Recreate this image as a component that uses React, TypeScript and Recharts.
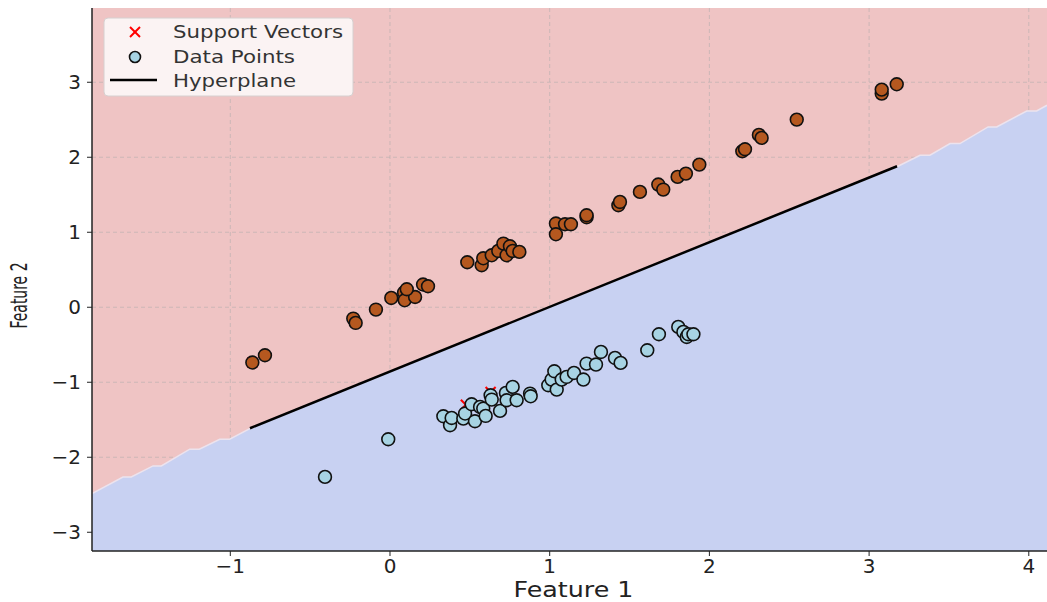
import {
  ComposedChart,
  XAxis,
  YAxis,
  CartesianGrid,
  Scatter,
  Line,
  Area,
  Label,
} from "recharts";

// class 1 (orange) points
const classA = [
  { x: -0.862, y: -0.737 }, { x: -0.783, y: -0.64 }, { x: -0.23, y: -0.151 },
  { x: -0.215, y: -0.209 }, { x: -0.088, y: -0.031 }, { x: 0.008, y: 0.124 },
  { x: 0.088, y: 0.196 }, { x: 0.092, y: 0.093 }, { x: 0.157, y: 0.137 },
  { x: 0.105, y: 0.24 }, { x: 0.207, y: 0.303 }, { x: 0.238, y: 0.28 },
  { x: 0.484, y: 0.6 }, { x: 0.574, y: 0.56 }, { x: 0.584, y: 0.653 },
  { x: 0.637, y: 0.693 }, { x: 0.678, y: 0.751 }, { x: 0.71, y: 0.849 },
  { x: 0.73, y: 0.693 }, { x: 0.751, y: 0.813 }, { x: 0.768, y: 0.751 },
  { x: 0.81, y: 0.738 }, { x: 1.039, y: 1.116 }, { x: 1.039, y: 0.973 },
  { x: 1.096, y: 1.107 }, { x: 1.133, y: 1.107 }, { x: 1.231, y: 1.2 },
  { x: 1.231, y: 1.227 }, { x: 1.43, y: 1.36 }, { x: 1.44, y: 1.404 },
  { x: 1.565, y: 1.538 }, { x: 1.68, y: 1.636 }, { x: 1.711, y: 1.569 },
  { x: 1.801, y: 1.738 }, { x: 1.853, y: 1.782 }, { x: 1.937, y: 1.902 },
  { x: 2.206, y: 2.08 }, { x: 2.223, y: 2.107 }, { x: 2.31, y: 2.298 },
  { x: 2.327, y: 2.258 }, { x: 2.547, y: 2.502 }, { x: 3.079, y: 2.849 },
  { x: 3.079, y: 2.902 }, { x: 3.173, y: 2.973 },
];

// class 0 (light blue) points
const classB = [
  { x: -0.407, y: -2.262 }, { x: -0.011, y: -1.76 }, { x: 0.334, y: -1.453 },
  { x: 0.376, y: -1.573 }, { x: 0.386, y: -1.476 }, { x: 0.459, y: -1.484 },
  { x: 0.47, y: -1.417 }, { x: 0.511, y: -1.293 }, { x: 0.532, y: -1.52 },
  { x: 0.564, y: -1.329 }, { x: 0.584, y: -1.351 }, { x: 0.599, y: -1.449 },
  { x: 0.63, y: -1.173 }, { x: 0.637, y: -1.231 }, { x: 0.689, y: -1.382 },
  { x: 0.726, y: -1.142 }, { x: 0.73, y: -1.24 }, { x: 0.768, y: -1.062 },
  { x: 0.793, y: -1.24 }, { x: 0.877, y: -1.151 }, { x: 0.881, y: -1.187 },
  { x: 0.991, y: -1.04 }, { x: 1.012, y: -0.964 }, { x: 1.029, y: -0.853 },
  { x: 1.044, y: -1.098 }, { x: 1.075, y: -0.964 }, { x: 1.106, y: -0.929 },
  { x: 1.152, y: -0.876 }, { x: 1.211, y: -0.964 }, { x: 1.231, y: -0.751 },
  { x: 1.29, y: -0.764 }, { x: 1.321, y: -0.596 }, { x: 1.409, y: -0.676 },
  { x: 1.444, y: -0.742 }, { x: 1.611, y: -0.573 }, { x: 1.684, y: -0.36 },
  { x: 1.805, y: -0.262 }, { x: 1.837, y: -0.329 }, { x: 1.858, y: -0.396 },
  { x: 1.868, y: -0.36 }, { x: 1.9, y: -0.36 },
];

const supportVectors = [
  { x: -0.862, y: -0.737 }, { x: 0.157, y: 0.137 },
  { x: 0.475, y: -1.3 }, { x: 0.63, y: -1.13 },
];

const hyperplane = [
  { x: -0.877, y: -1.613 },
  { x: 3.175, y: 1.88 },
];

// decision region boundary
const boundary = [
  { x: -1.866, y: -2.484 }, { x: -1.672, y: -2.263 }, { x: -1.62, y: -2.263 },
  { x: -1.484, y: -2.116 }, { x: -1.432, y: -2.116 }, { x: -1.254, y: -1.893 },
  { x: -1.194, y: -1.893 }, { x: -1.066, y: -1.76 }, { x: -1.004, y: -1.76 },
  { x: -0.869, y: -1.609 }, { x: 3.181, y: 1.88 }, { x: 3.319, y: 2.027 },
  { x: 3.381, y: 2.027 }, { x: 3.507, y: 2.183 }, { x: 3.569, y: 2.183 },
  { x: 3.745, y: 2.404 }, { x: 3.799, y: 2.404 }, { x: 3.987, y: 2.617 },
  { x: 4.049, y: 2.617 }, { x: 4.114, y: 2.693 },
];

const xTicks = [-1, 0, 1, 2, 3, 4];
const yTicks = [-3, -2, -1, 0, 1, 2, 3];
const xDomain = [-1.866, 4.114];
const yDomain = [-3.25, 3.99];

const FONT = "'DejaVu Sans', sans-serif";

const Dot = (fill: string) => (props: any) => (
  <circle cx={props.cx} cy={props.cy} r={6.4} fill={fill} stroke="#111" strokeWidth={1.6} />
);

const Cross = (props: any) => {
  const { cx, cy } = props;
  const s = 5;
  return (
    <g stroke="#ff0000" strokeWidth={2}>
      <line x1={cx - s} y1={cy - s} x2={cx + s} y2={cy + s} />
      <line x1={cx - s} y1={cy + s} x2={cx + s} y2={cy - s} />
    </g>
  );
};

const fmt = (v: number) => (v < 0 ? `\u2212${Math.abs(v)}` : `${v}`);

const App = () => (
  <div style={{ position: "absolute", left: 0, top: 0, width: 1047, height: 602 }}>
    <ComposedChart
      width={1047}
      height={602}
      margin={{ top: 8, right: 0, left: 0, bottom: 0 }}
    >
      <CartesianGrid fill="#efc4c4" horizontal={false} vertical={false} stroke="none" />
      <XAxis
        dataKey="x"
        type="number"
        domain={xDomain}
        ticks={xTicks}
        allowDataOverflow
        height={51}
        tickFormatter={fmt}
        tick={{ fontSize: 20, fill: "#222", fontFamily: FONT }}
        tickSize={5}
        tickMargin={3}
        axisLine={{ stroke: "#222", strokeWidth: 1.5 }}
        tickLine={{ stroke: "#222" }}
      >
        <Label
          content={({ viewBox }: any) => (
            <text
              x={viewBox.x + viewBox.width / 2 + 4}
              y={viewBox.y + viewBox.height - 5}
              textAnchor="middle"
              fontSize={21}
              fontFamily={FONT}
              fill="#222"
              textLength={120}
              lengthAdjust="spacingAndGlyphs"
            >
              Feature 1
            </text>
          )}
        />
      </XAxis>
      <YAxis
        dataKey="y"
        type="number"
        domain={yDomain}
        ticks={yTicks}
        allowDataOverflow
        width={92}
        tickFormatter={fmt}
        tick={{ fontSize: 20, fill: "#222", fontFamily: FONT }}
        tickSize={5}
        tickMargin={6}
        axisLine={{ stroke: "#222", strokeWidth: 1.5 }}
        tickLine={{ stroke: "#222" }}
      >
        <Label
          content={({ viewBox }: any) => {
            const cx = 27;
            const cy = viewBox.y + viewBox.height / 2 + 16;
            return (
              <text
                x={cx}
                y={cy}
                transform={`rotate(-90 ${cx} ${cy})`}
                textAnchor="middle"
                fontSize={23}
                fontFamily={FONT}
                fill="#222"
                textLength={66}
                lengthAdjust="spacingAndGlyphs"
              >
                Feature 2
              </text>
            );
          }}
        />
      </YAxis>
      <Area
        data={boundary}
        dataKey="y"
        type="linear"
        baseValue={yDomain[0]}
        fill="#c8d1f2"
        fillOpacity={1}
        stroke="#ece3ee"
        strokeWidth={1.5}
        isAnimationActive={false}
      />
      <CartesianGrid
        stroke="#a9a9a9"
        strokeOpacity={0.5}
        strokeDasharray="4 3"
        fill="none"
        horizontalValues={yTicks}
        verticalValues={xTicks}
      />
      <Line
        data={hyperplane}
        dataKey="y"
        stroke="#000"
        strokeWidth={2.5}
        dot={false}
        activeDot={false}
        isAnimationActive={false}
      />
      <Scatter data={supportVectors} dataKey="y" shape={Cross} isAnimationActive={false} />
      <Scatter data={classA} dataKey="y" shape={Dot("#b5581f")} isAnimationActive={false} />
      <Scatter data={classB} dataKey="y" shape={Dot("#a7d3e3")} isAnimationActive={false} />
    </ComposedChart>

    <svg
      width={270}
      height={100}
      style={{ position: "absolute", left: 0, top: 0, overflow: "visible" }}
    >
      <rect x={104} y={18} width={249} height={78} rx={4} fill="#fbf3f3" stroke="#d6d0d0" />
      <g stroke="#ff0000" strokeWidth={2}>
        <line x1={130} y1={27} x2={140} y2={37} />
        <line x1={130} y1={37} x2={140} y2={27} />
      </g>
      <circle cx={135} cy={57} r={5.5} fill="#a7d3e3" stroke="#111" strokeWidth={1.6} />
      <line x1={110} y1={80} x2={157} y2={80} stroke="#000" strokeWidth={2.5} />
      <g fontFamily={FONT} fontSize={18} fill="#333">
        <text x={173} y={38} textLength={170} lengthAdjust="spacingAndGlyphs">Support Vectors</text>
        <text x={173} y={63} textLength={122} lengthAdjust="spacingAndGlyphs">Data Points</text>
        <text x={173} y={87} textLength={123} lengthAdjust="spacingAndGlyphs">Hyperplane</text>
      </g>
    </svg>
  </div>
);

export default App;
